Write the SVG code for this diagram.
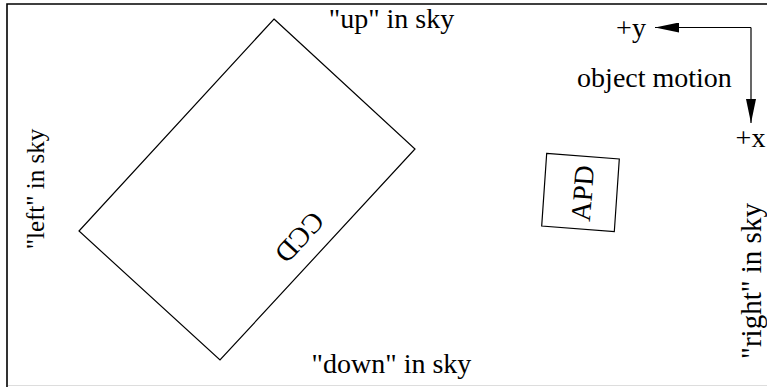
<svg xmlns="http://www.w3.org/2000/svg" width="767" height="387" viewBox="0 0 767 387">
<style>
text{font-family:"Liberation Serif","Times New Roman",serif;font-size:28px;fill:#000}
.ln{fill:none;stroke:#000;stroke-width:1.2}
</style>
<defs>
<marker id="ah" viewBox="0 0 24 10" refX="24" refY="5" markerWidth="24" markerHeight="10" markerUnits="userSpaceOnUse" orient="auto">
<path d="M0,0 L24,5 L0,10 Z" fill="#000"/>
</marker>
</defs>
<rect width="767" height="387" fill="#fff"/>
<g id="frame">
<path d="M7,387 V4 H767" fill="none" stroke="#000" stroke-width="1.6"/>
<line x1="8" y1="385.5" x2="767" y2="385.5" stroke="#ddd" stroke-width="1"/>
</g>
<g id="ccd">
<polygon class="ln" points="274,19 415,149 220,360 79,231"/>
<text transform="translate(292.7,231) rotate(132.7)" text-anchor="middle">CCD</text>
</g>
<g id="apd">
<polygon class="ln" points="546.7,153.3 619.3,159 614.3,231.7 541.7,226"/>
<text transform="translate(592,194) rotate(-85.5)" text-anchor="middle">APD</text>
</g>
<g id="labels">
<text x="391.5" y="28" text-anchor="middle">"up" in sky</text>
<text x="391.5" y="373" text-anchor="middle">"down" in sky</text>
<text transform="translate(44,189) rotate(-90)" text-anchor="middle" style="font-size:25px">"left" in sky</text>
<text transform="translate(761,281) rotate(-90)" text-anchor="middle" style="font-size:29px">"right" in sky</text>
<text x="631" y="37" text-anchor="middle">+y</text>
<text x="654.5" y="87" text-anchor="middle">object motion</text>
<text x="750.5" y="147" text-anchor="middle">+x</text>
</g>
<g id="connectors">
<path class="ln" d="M751,27.5 H655" marker-end="url(#ah)"/>
<path class="ln" d="M751,27.5 V123" marker-end="url(#ah)"/>
</g>
</svg>
